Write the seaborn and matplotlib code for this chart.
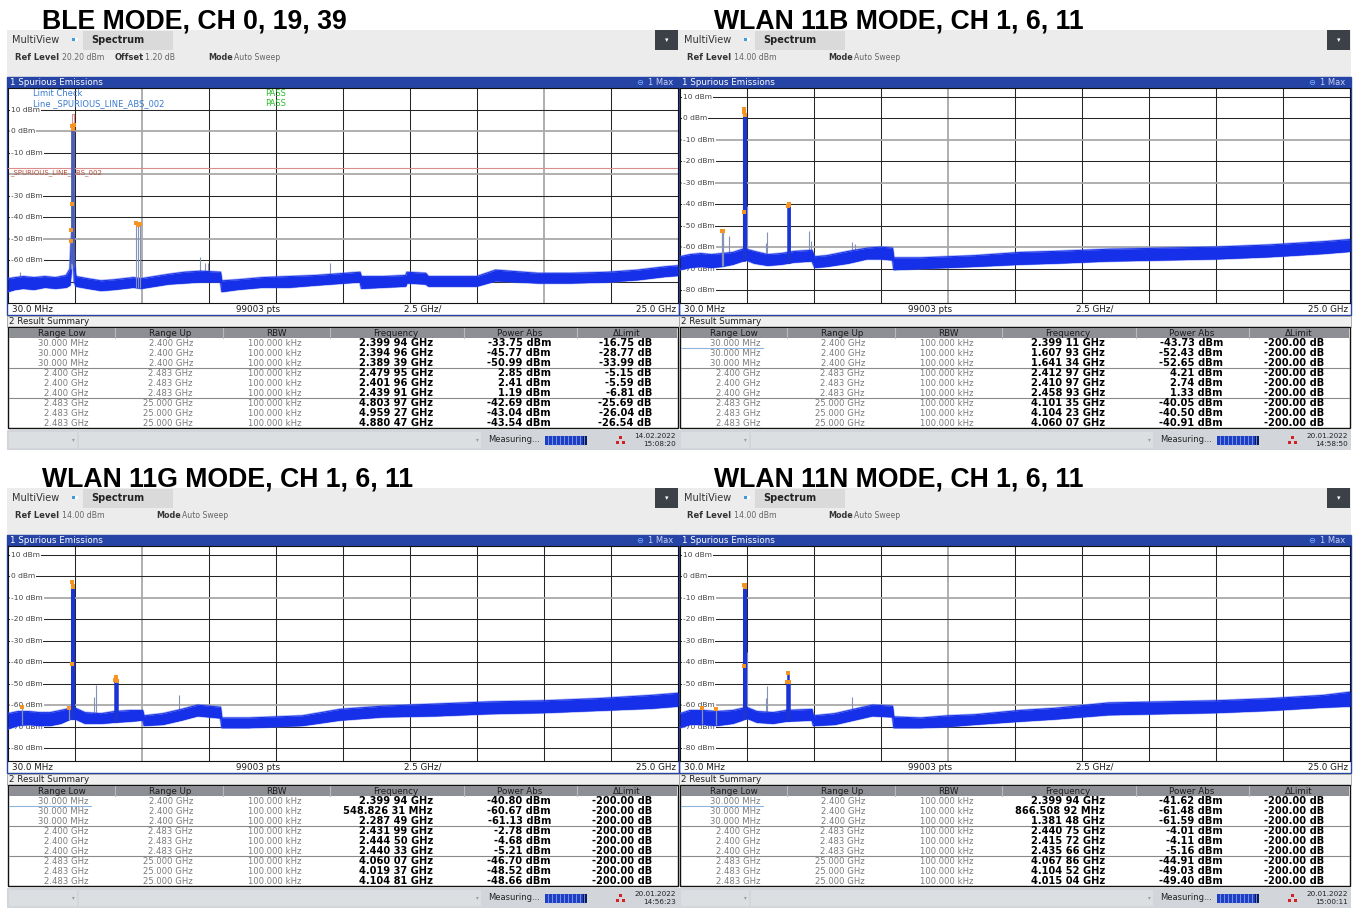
import matplotlib
matplotlib.use("Agg")
import matplotlib.pyplot as plt
from matplotlib.patches import Rectangle
import numpy as np
import pandas as pd
import seaborn as sns

sns.set_style("white")
plt.rcParams["font.family"] = ["DejaVu Sans"]

W, H = 1355, 908

# ---------------------------------------------------------------- data
titles = ["BLE MODE, CH 0, 19, 39", "WLAN 11B MODE, CH 1, 6, 11",
          "WLAN 11G MODE, CH 1, 6, 11", "WLAN 11N MODE, CH 1, 6, 11"]
ref_levels = [20.20, 14.00, 14.00, 14.00]
level_offsets = [1.20, None, None, None]
stamp_dates = ["14.02.2022", "20.01.2022", "20.01.2022", "20.01.2022"]
stamp_times = ["15:08:20", "14:58:50", "14:56:23", "15:00:11"]

f_start, f_stop = 0.03, 25.0          # GHz
sweep_points = 99003
div_label = "2.5 GHz/"

table_header = ["Range Low", "Range Up", "RBW", "Frequency", "Power Abs", "\u0394Limit"]
range_low = ["30.000 MHz"] * 3 + ["2.400 GHz"] * 3 + ["2.483 GHz"] * 3
range_up = ["2.400 GHz"] * 3 + ["2.483 GHz"] * 3 + ["25.000 GHz"] * 3
rbw = ["100.000 kHz"] * 9

# BLE limit line (dBm)
limit_f = [0.03, 2.400, 2.400, 2.483, 2.483, 25.0]
limit_db = [-17.0, -17.0, 8.0, 8.0, -17.0, -17.0]

# --- BLE trace envelope (GHz, dBm)
ble_floor_f = [0.03, 0.30, 0.60, 1.00, 1.40, 1.80, 2.20, 2.34, 2.38, 2.41, 2.47, 2.50,
               2.56, 3.00, 3.50, 4.00, 4.70, 5.00, 5.50, 6.00, 6.60, 7.20, 7.95, 8.00,
               8.60, 9.50, 10.50, 11.50, 13.15, 13.20, 14.00, 14.85, 14.90, 15.60,
               15.70, 17.50, 18.20, 19.80, 21.00, 22.40, 23.50, 24.50, 25.00]
ble_floor_lo = [-74.5, -73.5, -73.0, -73.5, -72.5, -73.0, -72.5, -71.5, -66.0, -60.0, -60.0, -70.0,
                -72.0, -73.0, -74.0, -73.5, -72.5, -73.0, -72.0, -71.0, -70.5, -70.0, -70.0, -74.5,
                -73.5, -72.5, -72.5, -71.5, -70.0, -73.0, -72.5, -72.0, -70.5, -71.0,
                -72.0, -72.0, -69.5, -70.5, -70.5, -70.0, -69.0, -67.5, -67.0]
ble_floor_hi = [-68.5, -68.0, -67.5, -68.0, -67.5, -68.0, -67.0, -64.0, -52.0, -47.5, -48.5, -60.0,
                -67.5, -68.5, -69.5, -69.0, -68.0, -68.5, -67.5, -66.5, -65.5, -65.0, -65.5, -69.5,
                -69.0, -68.0, -67.5, -67.0, -65.5, -67.5, -67.5, -67.0, -65.5, -66.0,
                -67.5, -67.5, -64.5, -66.0, -66.0, -65.5, -64.5, -63.0, -62.5]
ble_spur_f = [0.48, 7.20, 7.38, 7.50, 12.03]
ble_spur_top = [-65.5, -58.4, -61.0, -61.0, -61.2]
ble_mk_freq = [2.39994, 2.39496, 2.38939, 2.47995, 2.40196, 2.43991, 4.80397, 4.95927, 4.88047]
ble_mk_power = [-33.75, -45.77, -50.99, 2.85, 2.41, 1.19, -42.69, -43.04, -43.54]
ble_mk_delta = [-16.75, -28.77, -33.99, -5.15, -5.59, -6.81, -25.69, -26.04, -26.54]

# --- WLAN 11b
b_floor_f = [0.03, 0.40, 0.80, 1.20, 1.60, 2.00, 2.36, 2.50, 2.80, 3.30, 3.80, 4.30, 4.95,
             5.05, 5.50, 6.30, 7.00, 7.50, 7.95, 8.00, 9.00, 10.00, 11.00, 12.70, 14.00,
             16.00, 18.00, 20.00, 22.00, 24.00, 25.00]
b_floor_lo = [-70.5, -69.5, -69.0, -69.5, -69.0, -68.0, -66.5, -66.0, -67.5, -68.5, -68.0, -67.0, -66.5,
              -69.5, -69.0, -67.5, -65.5, -65.5, -66.0, -70.5, -70.0, -69.5, -69.0, -68.0, -67.5,
              -66.5, -66.0, -65.5, -64.5, -63.0, -62.0]
b_floor_hi = [-64.5, -63.5, -63.0, -63.5, -63.0, -62.5, -61.0, -61.0, -62.0, -63.5, -63.0, -62.0, -61.5,
              -64.5, -64.0, -62.0, -60.5, -60.0, -60.5, -65.0, -65.0, -64.5, -64.0, -62.5, -62.0,
              -61.0, -60.5, -60.0, -59.0, -57.5, -56.5]
b_spur_f = [1.87, 2.51, 3.22, 3.28, 4.85, 4.93, 6.45, 6.55]
b_spur_top = [-55.0, -41.0, -58.0, -53.0, -52.7, -57.0, -57.5, -58.5]
b_mk_freq = [2.39911, 1.60793, 1.64134, 2.41297, 2.41097, 2.45893, 4.10135, 4.10423, 4.06007]
b_mk_power = [-43.73, -52.43, -52.65, 4.21, 2.74, 1.33, -40.05, -40.50, -40.91]
b_mk_delta = [-200.00] * 9

# --- WLAN 11g
g_floor_f = [0.03, 0.40, 0.80, 1.20, 1.60, 2.00, 2.36, 2.55, 2.90, 3.50, 4.00, 4.60, 5.05,
             5.10, 5.80, 6.50, 7.10, 7.95, 8.00, 9.00, 10.00, 11.00, 12.40, 14.00, 16.00,
             18.00, 20.00, 22.00, 24.00, 25.00]
g_floor_lo = [-71.0, -69.5, -69.0, -69.5, -69.5, -68.5, -66.5, -66.5, -68.5, -68.5, -68.0, -67.5, -67.0,
              -69.5, -69.0, -67.0, -65.0, -66.0, -70.5, -70.5, -70.0, -69.5, -67.0, -65.5, -65.0,
              -64.0, -63.5, -62.5, -61.5, -60.5]
g_floor_hi = [-64.0, -63.0, -63.0, -63.5, -63.5, -62.5, -61.5, -61.5, -63.5, -64.0, -63.0, -62.5, -62.5,
              -65.0, -64.0, -62.0, -60.0, -61.0, -66.0, -66.0, -65.5, -65.0, -62.0, -60.5, -59.5,
              -58.5, -58.0, -57.0, -55.5, -54.5]
g_spur_f = [2.50, 3.24, 3.30, 6.40]
g_spur_top = [-37.5, -56.0, -50.8, -55.5]
g_mk_freq = [2.39994, 0.54882631, 2.28749, 2.43199, 2.44450, 2.44033, 4.06007, 4.01937, 4.10481]
g_mk_power = [-40.80, -60.67, -61.13, -2.78, -4.68, -5.21, -46.70, -48.52, -48.66]
g_mk_delta = [-200.00] * 9

# --- WLAN 11n
n_floor_f = [0.03, 0.40, 0.90, 1.40, 2.00, 2.36, 2.50, 2.90, 3.50, 4.00, 4.95, 5.00,
             5.80, 6.50, 7.20, 7.95, 8.00, 9.00, 10.00, 11.00, 12.70, 14.00, 16.00,
             18.00, 20.00, 22.00, 24.00, 25.00]
n_floor_lo = [-70.5, -69.0, -69.0, -69.5, -68.5, -67.0, -66.0, -68.0, -68.5, -67.5, -67.0, -69.5,
              -69.0, -67.0, -65.0, -65.5, -70.5, -70.5, -70.0, -69.0, -67.5, -66.5, -64.5,
              -64.0, -63.5, -62.5, -61.0, -60.5]
n_floor_hi = [-64.0, -62.5, -62.5, -63.0, -62.5, -61.5, -61.0, -63.0, -63.5, -62.5, -62.0, -65.0,
              -64.0, -62.0, -60.0, -60.5, -65.5, -66.0, -65.0, -64.5, -62.5, -61.5, -59.0,
              -58.5, -58.0, -57.0, -55.5, -54.0]
n_spur_f = [2.51, 3.24, 3.28, 6.43]
n_spur_top = [-35.5, -56.5, -51.0, -56.0]
n_mk_freq = [2.39994, 0.86650892, 1.38148, 2.44075, 2.41572, 2.43566, 4.06786, 4.10452, 4.01504]
n_mk_power = [-41.62, -61.48, -61.59, -4.01, -4.11, -5.16, -44.91, -49.03, -49.40]
n_mk_delta = [-200.00] * 9

# ---------------------------------------------------------------- style
TRACE = "#1530e8"
TRACE_EDGE = "#5b6ef0"
SPUR = "#8591b6"
MARK = "#f39425"
UI = "DejaVu Sans"


def freq_text(ghz):
    if ghz < 1.0:
        s, unit = f"{ghz * 1000:.5f}", "MHz"
    else:
        s, unit = f"{ghz:.5f}", "GHz"
    a, b = s.split(".")
    return f"{a}.{b[:3]} {b[3:]} {unit}"


def fig_rect(x, y, w, h):
    return [x / W, 1 - (y + h) / H, w / W, h / H]


fig = plt.figure(figsize=(W / 100, H / 100), dpi=100)
fig.patch.set_facecolor("white")
bg = fig.add_axes([0, 0, 1, 1])
bg.set_xlim(0, W)
bg.set_ylim(H, 0)
bg.axis("off")


def box(x, y, w, h, fc, ec="none", lw=0.0):
    bg.add_patch(Rectangle((x, y), w, h, facecolor=fc, edgecolor=ec, linewidth=lw))


def txt(x, y, s, size=6.0, color="#222222", weight="normal", ha="left", va="center", family=UI):
    bg.text(x, y, s, fontsize=size, color=color, fontweight=weight, ha=ha, va=va, family=family)


def draw_panel(x0, y0, idx, floor_f, floor_lo, floor_hi, spur_f, spur_top,
               mk_f, mk_p, mk_d, soft_v, soft_h, ble=False):
    ref = ref_levels[idx]
    # title
    txt(x0 + 35, y0 - 1.5, titles[idx], size=19.2, color="black", weight="bold",
        va="baseline", family="Liberation Sans")
    # instrument header
    box(x0, y0, 672, 47, "#ececec")
    box(x0 + 76, y0 + 1, 90, 19, "#dadada")
    txt(x0 + 5, y0 + 10, "MultiView", 7.0, "#333333")
    box(x0 + 65, y0 + 8, 3, 3, "#3d9be0")
    box(x0 + 68, y0 + 8, 3, 3, "#ffffff")
    txt(x0 + 84, y0 + 10, "Spectrum", 7.0, "#222222", "bold")
    box(x0 + 648, y0, 23, 20, "#3b4146")
    txt(x0 + 659.5, y0 + 10, "\u25be", 5, "white", ha="center")
    txt(x0 + 8, y0 + 27, "Ref Level", 6.0, "#333333", "bold")
    txt(x0 + 55, y0 + 27, f"{ref:.2f} dBm", 5.6, "#666666")
    if level_offsets[idx] is not None:
        txt(x0 + 108, y0 + 27, "Offset", 6.0, "#333333", "bold")
        txt(x0 + 138, y0 + 27, f"{level_offsets[idx]:.2f} dB", 5.6, "#666666")
        mode_x = x0 + 201
    else:
        mode_x = x0 + 149
    txt(mode_x, y0 + 27, "Mode", 5.8, "#333333", "bold")
    txt(mode_x + 26, y0 + 27, "Auto Sweep", 5.6, "#666666")
    # trace window title bar and frame
    box(x0, y0 + 47, 672, 11, "#2544a6")
    txt(x0 + 3, y0 + 52.5, "1 Spurious Emissions", 6.3, "white")
    txt(x0 + 629, y0 + 52.5, "\u2296", 6.0, "#7fb2ff")
    txt(x0 + 666, y0 + 52.5, "1 Max", 6.0, "#c9d2f2", ha="right")
    box(x0, y0 + 47, 672, 238, "none", "#2544a6", 1.0)
    # frequency axis captions
    txt(x0 + 5, y0 + 279, "30.0 MHz", 6.3, "#1a1a1a")
    txt(x0 + 229, y0 + 279, f"{sweep_points} pts", 6.3, "#1a1a1a")
    txt(x0 + 397, y0 + 279, div_label, 6.3, "#1a1a1a")
    txt(x0 + 669, y0 + 279, "25.0 GHz", 6.3, "#1a1a1a", ha="right")

    # ------------------------------------------------ spectrum plot
    ax = fig.add_axes(fig_rect(x0 + 1, y0 + 58, 670, 215))
    ax.set_xlim(f_start, f_stop)
    ax.set_ylim(ref - 100, ref)
    ax.set_xticks([])
    ax.set_yticks([])
    for sp in ax.spines.values():
        sp.set_color("#111111")
        sp.set_linewidth(0.8)
        sp.set_visible(True)
    step = (f_stop - f_start) / 10
    for k in range(1, 10):
        soft = k in soft_v
        ax.axvline(f_start + k * step, color="#a9a9a9" if soft else "#262626",
                   lw=1.3 if soft else 0.75, zorder=1)
    yt = ax.get_yaxis_transform()
    for lv in np.arange(np.ceil((ref - 100) / 10) * 10, ref - 1, 10):
        soft = int(lv) in soft_h
        ax.axhline(lv, color="#a9a9a9" if soft else "#262626",
                   lw=1.3 if soft else 0.75, zorder=1)
        if ble and int(lv) == -20:
            continue
        ax.text(3 / 670, lv, f"{int(lv)} dBm", transform=yt, fontsize=5.4,
                color="#444444", va="center", ha="left", zorder=2,
                bbox=dict(facecolor="white", edgecolor="none", pad=0.6))

    if ble:
        lim = pd.DataFrame({"freq": limit_f, "dbm": limit_db})
        sns.lineplot(data=lim, x="freq", y="dbm", ax=ax, color="#dc8c8c", lw=0.8,
                     estimator=None, sort=False, legend=False, zorder=3)
        ax.text(2 / 670, limit_db[0] - 0.8, "_SPURIOUS_LINE_ABS_002", transform=yt,
                fontsize=5.0, color="#b8503a", va="top", ha="left", zorder=3)
        at = ax.transAxes
        ax.text(25 / 670, 1 - 5 / 215, "Limit Check", transform=at, fontsize=6.0,
                color="#3a7bd0", va="center", zorder=3)
        ax.text(25 / 670, 1 - 16 / 215, "Line _SPURIOUS_LINE_ABS_002", transform=at,
                fontsize=6.0, color="#3a7bd0", va="center", zorder=3)
        for yy in (5, 16):
            ax.text(257 / 670, 1 - yy / 215, "PASS", transform=at, fontsize=6.0,
                    color="#2dbd2d", va="center", zorder=3)

    # noise floor of the max-hold trace, with a soft fringe along its edges
    fl = pd.DataFrame({"freq": floor_f, "lo": floor_lo, "hi": floor_hi})
    for col in ("lo", "hi"):
        sns.lineplot(data=fl, x="freq", y=col, ax=ax, color=TRACE_EDGE, lw=1.8, alpha=0.55,
                     estimator=None, sort=False, legend=False, zorder=3.8)
    ax.fill_between(fl["freq"], fl["lo"], fl["hi"], color=TRACE, lw=0, zorder=4)
    for col in ("lo", "hi"):
        sns.lineplot(data=fl, x="freq", y=col, ax=ax, color=TRACE, lw=0.7,
                     estimator=None, sort=False, legend=False, zorder=4)

    # narrow spurs
    sp_base = np.interp(spur_f, floor_f, floor_hi)
    ax.vlines(spur_f, sp_base, spur_top, color=SPUR, lw=0.8, zorder=3)

    # emissions reported in the result summary
    mk_f = np.asarray(mk_f)
    mk_p = np.asarray(mk_p)
    base = np.interp(mk_f, floor_f, floor_lo)
    if ble:
        carrier_c, carrier_w, harm_c, harm_w = "#4b5eb8", 1.3, SPUR, 0.8
    else:
        carrier_c, carrier_w, harm_c, harm_w = "#1b34d4", 2.2, "#1b34d4", 1.8
    ax.vlines(mk_f[0:3], base[0:3], mk_p[0:3], color=SPUR, lw=0.9, zorder=5)
    ax.vlines(mk_f[3:6], base[3:6], mk_p[3:6], color=carrier_c, lw=carrier_w, zorder=5)
    ax.vlines(mk_f[6:9], base[6:9], mk_p[6:9], color=harm_c, lw=harm_w, zorder=5)
    mk = pd.DataFrame({"freq": mk_f, "power": mk_p})
    sns.scatterplot(data=mk, x="freq", y="power", ax=ax, color=MARK, marker="s",
                    s=9, linewidth=0, legend=False, zorder=7)
    ax.set_xlabel("")
    ax.set_ylabel("")

    # ------------------------------------------------ result summary
    box(x0, y0 + 286, 672, 11, "#f0f0f0", "#a0a0a0", 0.6)
    txt(x0 + 2, y0 + 291.5, "2 Result Summary", 6.3, "#222222")
    box(x0 + 1, y0 + 297, 670, 101, "white", "#111111", 1.0)
    box(x0 + 2, y0 + 298, 668, 9.5, "#8d8f95")
    for sx in (108, 216, 323, 457, 570):
        bg.plot([x0 + sx, x0 + sx], [y0 + 298, y0 + 307.5], color="#b9bac0", lw=0.8)
    for cx, name in zip((55, 163, 269, 389, 513, 620), table_header):
        txt(x0 + cx, y0 + 303, name, 6.3, "#1c1c1c", ha="center")
    for sy in (338, 368):
        bg.plot([x0 + 2, x0 + 670], [y0 + sy, y0 + sy], color="#8a8a8a", lw=0.8)
    if not ble:
        bg.plot([x0 + 2, x0 + 84], [y0 + 318, y0 + 318], color="#8fb4dc", lw=0.8)
    for i in range(9):
        ry = y0 + 313 + 10 * i
        txt(x0 + 81, ry, range_low[i], 6.1, "#7c7c7c", ha="right")
        txt(x0 + 186, ry, range_up[i], 6.1, "#7c7c7c", ha="right")
        txt(x0 + 295, ry, rbw[i], 6.1, "#7c7c7c", ha="right")
        txt(x0 + 426, ry, freq_text(mk_f[i]), 7.1, "black", "bold", ha="right")
        txt(x0 + 544, ry, f"{mk_p[i]:.2f} dBm", 7.1, "black", "bold", ha="right")
        txt(x0 + 645, ry, f"{mk_d[i]:.2f} dB", 7.1, "black", "bold", ha="right")

    # ------------------------------------------------ status bar
    box(x0, y0 + 400, 672, 20, "#d2d6da")
    box(x0 + 2, y0 + 402, 68, 16, "#dcdfe2")
    box(x0 + 72, y0 + 402, 402, 16, "#dcdfe2")
    txt(x0 + 68, y0 + 410, "\u25be", 4, "#9a9a9a", ha="right")
    txt(x0 + 472, y0 + 410, "\u25be", 4, "#9a9a9a", ha="right")
    txt(x0 + 481, y0 + 410, "Measuring...", 6.0, "#222222")
    box(x0 + 538, y0 + 405.5, 42, 9, "#1d3fc4")
    for px in range(541, 578, 4):
        bg.plot([x0 + px, x0 + px], [y0 + 405.5, y0 + 414.5], color="#9fb0ee", lw=0.5)
    box(x0 + 576, y0 + 405.5, 4, 9, "#0a1a60")
    for dx, dy in ((613, 407), (610, 412), (616, 412)):
        box(x0 + dx - 1, y0 + dy - 1, 2.5, 2.5, "#d42020")
    txt(x0 + 669, y0 + 406, stamp_dates[idx], 5.2, "#222222", ha="right")
    txt(x0 + 669, y0 + 414.5, stamp_times[idx], 5.2, "#222222", ha="right")


draw_panel(7, 30, 0, ble_floor_f, ble_floor_lo, ble_floor_hi, ble_spur_f, ble_spur_top,
           ble_mk_freq, ble_mk_power, ble_mk_delta, soft_v={2, 8}, soft_h={0, -20, -50}, ble=True)
draw_panel(679, 30, 1, b_floor_f, b_floor_lo, b_floor_hi, b_spur_f, b_spur_top,
           b_mk_freq, b_mk_power, b_mk_delta, soft_v={4}, soft_h={-10, -30, -60})
draw_panel(7, 488, 2, g_floor_f, g_floor_lo, g_floor_hi, g_spur_f, g_spur_top,
           g_mk_freq, g_mk_power, g_mk_delta, soft_v={2}, soft_h={-10, -60})
draw_panel(679, 488, 3, n_floor_f, n_floor_lo, n_floor_hi, n_spur_f, n_spur_top,
           n_mk_freq, n_mk_power, n_mk_delta, soft_v={4}, soft_h={-10, -60})

fig.savefig("out.png", dpi=100, facecolor="white")
